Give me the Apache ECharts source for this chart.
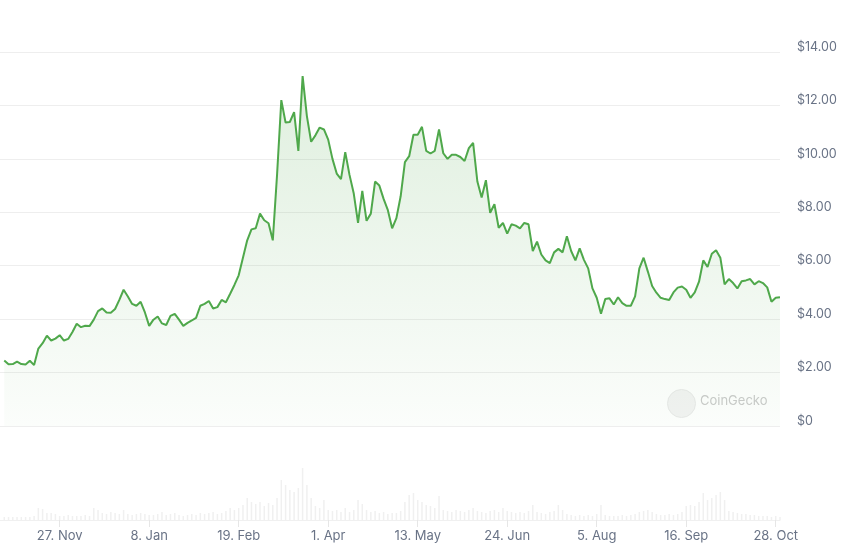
<!DOCTYPE html>
<html>
<head>
<meta charset="utf-8">
<script src="https://cdn.jsdelivr.net/npm/echarts@6/dist/echarts.min.js"></script>
<style>
  html, body { margin: 0; padding: 0; background: #ffffff; }
  #chart { width: 850px; height: 549px; }
</style>
</head>
<body>
<div id="chart"></div>
<script>
// Daily series sampled every 2 days, starting 1 Nov 2023
const startDate = '2023-11-01';
const stepDays = 2;

const prices = [
  2.45,2.31,2.32,2.41,2.32,2.30,2.44,2.28,2.90,3.10,
  3.38,3.20,3.27,3.40,3.20,3.26,3.52,3.83,3.70,3.75,
  3.74,3.98,4.30,4.40,4.25,4.24,4.38,4.72,5.10,4.85,
  4.57,4.50,4.65,4.25,3.75,3.98,4.10,3.84,3.78,4.12,
  4.20,3.98,3.75,3.86,3.95,4.05,4.50,4.57,4.68,4.40,
  4.45,4.72,4.63,4.95,5.28,5.64,6.30,6.95,7.36,7.40,
  7.95,7.70,7.59,6.95,9.40,12.20,11.36,11.38,11.75,10.30,
  13.10,11.60,10.64,10.88,11.17,11.10,10.72,10.00,9.45,9.24,
  10.25,9.40,8.70,7.60,8.80,7.68,7.95,9.15,9.00,8.50,
  8.08,7.40,7.78,8.60,9.88,10.10,10.90,10.90,11.20,10.30,
  10.20,10.30,11.10,10.21,10.00,10.15,10.15,10.07,9.92,10.40,
  10.60,9.15,8.55,9.20,7.98,8.30,7.42,7.60,7.20,7.55,
  7.50,7.40,7.60,7.55,6.55,6.90,6.42,6.20,6.10,6.50,
  6.63,6.50,7.10,6.55,6.20,6.65,6.22,5.90,5.15,4.80,
  4.20,4.75,4.78,4.55,4.82,4.60,4.50,4.50,4.85,5.90,
  6.30,5.78,5.24,4.99,4.80,4.75,4.72,5.00,5.18,5.22,
  5.10,4.80,5.00,5.40,6.20,5.95,6.45,6.58,6.30,5.30,
  5.50,5.35,5.15,5.42,5.45,5.50,5.30,5.42,5.35,5.19,
  4.65,4.80,4.82
];

// Trading volume (relative units, millions)
const volumes = [
  3,3,3,3,3,3,3,4,
  12,11,
  7,7,6,
  4,4,5,4,4,4,5,4,
  12,10,
  7,6,8,7,6,10,
  6,5,6,7,6,5,
  5,6,8,5,6,7,5,4,5,6,5,7,
  6,7,8,6,7,9,12,
  10,12,15,22,18,16,18,14,17,15,
  22,40,35,30,28,32,52,35,22,14,
  12,20,10,9,10,8,12,8,10,20,
  16,10,8,9,7,8,6,7,7,9,
  18,25,27,20,18,15,14,12,24,10,
  9,8,10,9,8,10,12,9,8,7,9,10,8,12,9,8,7,
  8,7,9,15,8,7,6,8,9,15,10,6,5,4,5,4,5,4,6,15,
  5,4,4,4,5,4,5,6,
  8,9,10,8,
  6,5,5,6,5,6,
  8,14,15,14,
  18,27,20,22,25,28,20,
  9,8,7,6,6,5,5,4,4,4,3,4,3
];

const tickDates = ['2023-11-27','2024-01-08','2024-02-19','2024-04-01','2024-05-13','2024-06-24','2024-08-05','2024-09-16','2024-10-28'];
const tickLabels = ['27. Nov','8. Jan','19. Feb','1. Apr','13. May','24. Jun','5. Aug','16. Sep','28. Oct'];
const axisStart = '2023-10-30';
const axisEnd = '2024-10-30';

const DAY = 86400000;
function utc(s) { const p = s.split('-').map(Number); return Date.UTC(p[0], p[1]-1, p[2]); }
function dayNo(s) { return Math.round((utc(s) - utc(axisStart)) / DAY); }
const d0 = dayNo(startDate);
const days = prices.map((_, i) => d0 + i * stepDays);
const priceData = prices.map((v, i) => [days[i], v]);
const volData = volumes.map((v, i) => [days[i], v]);
const tickDays = tickDates.map(dayNo);
const xMax = dayNo(axisEnd);

function xLabel(val) {
  const k = tickDays.indexOf(Math.round(val));
  return k >= 0 ? tickLabels[k] : '';
}

const textColor = '#697386';
const font = 'Inter, "Noto Sans", sans-serif';

const chart = echarts.init(document.getElementById('chart'), null, { renderer: 'canvas' });
chart.setOption({
  animation: false,
  backgroundColor: '#ffffff',
  grid: [
    { left: 0, right: 70, top: 52, height: 374 },
    { left: 0, right: 70, top: 468, height: 52 }
  ],
  xAxis: [
    {
      type: 'value', gridIndex: 0, min: 0, max: xMax,
      axisLine: { show: false }, axisTick: { show: false },
      axisLabel: { show: false }, splitLine: { show: false }
    },
    {
      type: 'value', gridIndex: 1, min: 0, max: xMax,
      axisLine: { show: true, lineStyle: { color: '#f0f0f0', width: 1 } },
      axisTick: { show: true, customValues: tickDays, length: 7, lineStyle: { color: '#e6e6e6' } },
      axisLabel: {
        show: true, customValues: tickDays, formatter: xLabel,
        color: textColor, fontSize: 13, fontFamily: font, margin: 10
      },
      splitLine: { show: false }
    }
  ],
  yAxis: [
    {
      type: 'value', gridIndex: 0, position: 'right', min: 0, max: 14, interval: 2,
      axisLine: { show: false }, axisTick: { show: false },
      axisLabel: {
        color: textColor, fontSize: 12.5, fontFamily: font, margin: 17,
        verticalAlign: 'bottom', lineHeight: 10,
        formatter: v => v === 0 ? '$0' : '$' + v.toFixed(2)
      },
      splitLine: { lineStyle: { color: '#eeeeee', width: 1 } }
    },
    {
      type: 'value', gridIndex: 1, min: 0, max: 52, show: false
    }
  ],
  graphic: [
    {
      type: 'circle', left: 667, top: 389, z: 1, silent: true,
      shape: { r: 14 },
      style: { fill: '#f3f3f3', stroke: '#e9e9e9', lineWidth: 1 }
    },
    {
      type: 'text', left: 700, top: 395, z: 1, silent: true,
      style: { text: 'CoinGecko', fill: '#cbcbcb', font: '13px ' + font }
    }
  ],
  series: [
    {
      type: 'line', xAxisIndex: 0, yAxisIndex: 0, data: priceData,
      showSymbol: false, symbol: 'none', smooth: false, z: 3,
      lineStyle: { color: '#4fa84b', width: 2 },
      areaStyle: {
        color: new echarts.graphic.LinearGradient(0, 0, 0, 1, [
          { offset: 0, color: 'rgba(79,168,75,0.26)' },
          { offset: 1, color: 'rgba(79,168,75,0.03)' }
        ])
      }
    },
    {
      type: 'bar', xAxisIndex: 1, yAxisIndex: 1, data: volData,
      barWidth: 1.5, itemStyle: { color: '#f0f0f0' }, silent: true
    }
  ]
});
</script>
</body>
</html>
